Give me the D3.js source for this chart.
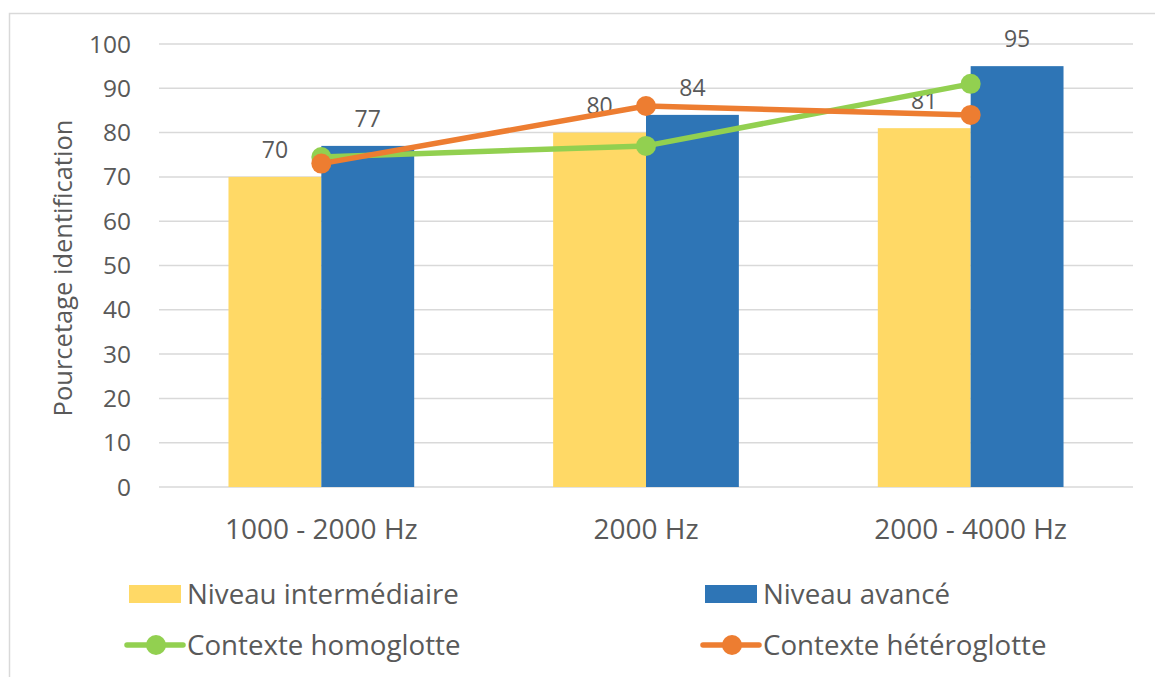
<!DOCTYPE html>
<html><head><meta charset="utf-8">
<script src="https://cdn.jsdelivr.net/npm/d3@7"></script>
<style>body{margin:0;background:#fff}svg{display:block}text{font-family:"Open Sans",sans-serif;fill:#595959}</style>
</head><body><svg id="c" width="1155" height="677"></svg>
<script>
const categories = ["1000 - 2000 Hz", "2000 Hz", "2000 - 4000 Hz"];
const intermediaire = [70, 80, 81];
const avance = [77, 84, 95];
const homoglotte = [74.5, 77, 91];
const heteroglotte = [73, 86, 84];
const yTicks = [0,10,20,30,40,50,60,70,80,90,100];

const svg = d3.select("#c");
svg.append("rect").attr("x",9.5).attr("y",13.5).attr("width",1160).attr("height",700)
  .attr("fill","#fff").attr("stroke","#d9d9d9").attr("stroke-width",1.5);

const L=159, R=1133, T=44, B=487;
const x = d3.scaleBand().domain(categories).range([L,R]).paddingInner(0.428).paddingOuter(0.214);
const y = d3.scaleLinear().domain([0,100]).range([B,T]);
const bw = x.bandwidth()/2;

const g = svg.append("g");
g.selectAll(".grid").data(yTicks).join("line")
  .attr("x1",L).attr("x2",R).attr("y1",d=>y(d)).attr("y2",d=>y(d))
  .attr("stroke","#d9d9d9").attr("stroke-width",1.5);

g.selectAll(".yl").data(yTicks).join("text")
  .attr("x",131).attr("y",d=>y(d)).attr("dy","0.35em").attr("text-anchor","end")
  .attr("font-size",24.5).text(d=>d);

svg.append("text").attr("transform","translate(72,268) rotate(-90)")
  .attr("text-anchor","middle").attr("font-size",25.5).text("Pourcetage identification");

const series = [{v:intermediaire,c:"#FFD966",off:0},{v:avance,c:"#2E75B6",off:1}];
series.forEach(s=>{
  g.selectAll(null).data(categories).join("rect")
    .attr("x",d=>x(d)+s.off*bw).attr("width",bw)
    .attr("y",(d,i)=>y(s.v[i])).attr("height",(d,i)=>B-y(s.v[i]))
    .attr("fill",s.c);
  g.selectAll(null).data(categories).join("text")
    .attr("x",d=>x(d)+s.off*bw+bw/2).attr("y",(d,i)=>y(s.v[i])-19)
    .attr("text-anchor","middle").attr("font-size",23).text((d,i)=>s.v[i]);
});

const cx = d=>x(d)+x.bandwidth()/2;
const lines=[{v:homoglotte,c:"#92D050"},{v:heteroglotte,c:"#ED7D31"}];
lines.forEach(s=>{
  const ln = d3.line().x((d,i)=>cx(categories[i])).y(d=>y(d));
  g.append("path").attr("d",ln(s.v)).attr("fill","none").attr("stroke",s.c).attr("stroke-width",5.5).attr("stroke-linejoin","round");
  g.selectAll(null).data(s.v).join("circle").attr("cx",(d,i)=>cx(categories[i])).attr("cy",d=>y(d)).attr("r",10).attr("fill",s.c);
});

g.selectAll(".xl").data(categories).join("text")
  .attr("x",d=>cx(d)).attr("y",539).attr("text-anchor","middle").attr("font-size",28).text(d=>d);

const legend=[
  {t:"Niveau intermédiaire",c:"#FFD966",type:"bar",x:129,y:594},
  {t:"Niveau avancé",c:"#2E75B6",type:"bar",x:705,y:594},
  {t:"Contexte homoglotte",c:"#92D050",type:"line",x:127,y:645},
  {t:"Contexte hétéroglotte",c:"#ED7D31",type:"line",x:703,y:645}
];
legend.forEach(l=>{
  if(l.type==="bar"){
    svg.append("rect").attr("x",l.x).attr("y",l.y-9).attr("width",52).attr("height",18).attr("fill",l.c);
  } else {
    svg.append("line").attr("x1",l.x).attr("x2",l.x+56).attr("y1",l.y).attr("y2",l.y).attr("stroke",l.c).attr("stroke-width",5.5).attr("stroke-linecap","round");
    svg.append("circle").attr("cx",l.x+29).attr("cy",l.y).attr("r",10).attr("fill",l.c);
  }
  svg.append("text").attr("x",l.type==="bar"?l.x+58:l.x+60).attr("y",l.y).attr("dy","0.35em").attr("font-size",27.7).text(l.t);
});
</script></body></html>
